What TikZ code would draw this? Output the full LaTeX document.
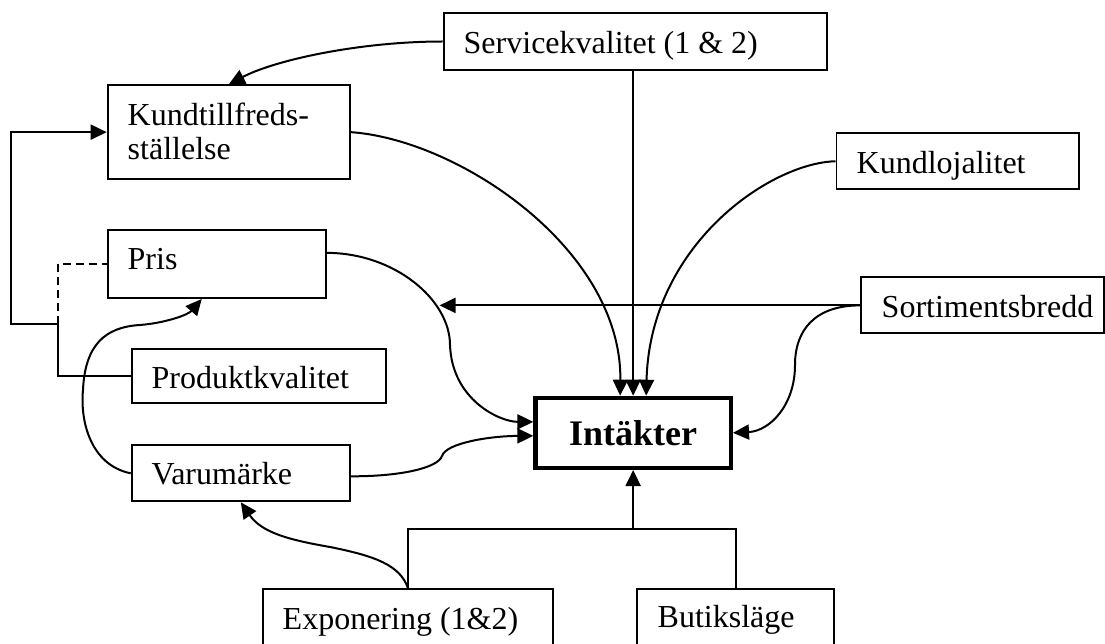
\documentclass[tikz,border=0pt]{standalone}
\usepackage{fontspec}
\setmainfont{Liberation Serif}
\usetikzlibrary{arrows.meta}
\begin{document}
\begin{tikzpicture}[x=1pt,y=-1pt,
  box/.style={draw, line width=1.9pt, inner sep=0pt, rectangle},
  txt/.style={inner sep=0pt, anchor=base west, font=\fontsize{32}{34.5}\selectfont},
  conn/.style={line width=2pt},
  arr/.style={conn, -{Triangle[length=16pt,width=15pt]}},
]
\fill[white] (0,0) rectangle (1105,644);
\useasboundingbox (0,0) rectangle (1105,644);

% boxes
\node[box, minimum width=383.1pt, minimum height=56.5pt] (serv)  at (635.2,41.5) {};
\node[box, minimum width=242.4pt, minimum height=93.8pt] (kund)  at (228.85,132.15) {};
\node[box, minimum width=218.1pt, minimum height=68.4pt] (pris)  at (216.7,263.85) {};
\node[box, minimum width=254.1pt, minimum height=53.8pt] (prod)  at (258.7,376.15) {};
\node[box, minimum width=218.4pt, minimum height=56.1pt] (varu)  at (240.85,473.3) {};
\node[box, minimum width=242.6pt, minimum height=55.6pt] (kloj)  at (957.75,161.25) {};
\node[box, minimum width=243.1pt, minimum height=55.9pt] (sort)  at (982.5,305.4) {};
\node[box, minimum width=290.7pt, minimum height=60pt]   (expo)  at (408,619.15) {};
\node[box, minimum width=197.1pt, minimum height=60pt]   (butik) at (735.5,618.85) {};
\node[box, line width=4.5pt, minimum width=195.2pt, minimum height=69.8pt,
      font=\bfseries\fontsize{36}{40}\selectfont] (intak) at (633.15,432.85) {Intäkter};

% box labels
\node[txt] (servT)  at (463.5,53.3)  {Servicekvalitet (1 \& 2)};
\node[txt] (kundT1) at (127.5,125.3) {Kundtillfreds-};
\node[txt] (kundT2) at (127.5,159.8) {ställelse};
\node[txt] (prisT)  at (127.5,269.7) {Pris};
\node[txt] (prodT)  at (151.5,388.8) {Produktkvalitet};
\node[txt] (varuT)  at (151.5,484.5) {Varumärke};
\node[txt] (klojT)  at (856.5,173.5) {Kundlojalitet};
\node[txt] (sortT)  at (881.5,317.3) {Sortimentsbredd};
\node[txt] (expoT)  at (282.5,629.3) {Exponering (1\&2)};
\node[txt] (butikT) at (657.5,627.7) {Butiksläge};

% helper points
\coordinate (jn)   at (58.3,324.3);
\coordinate (pcut) at (439.5,305.4);
\coordinate (brk)  at (0,528.7);

% service quality
\draw[arr] (serv.west) .. controls (360,41.5) and (275,60) .. (kund.north);
\draw[arr] (serv.south -| intak.north) -- (intak.north);

% customer satisfaction and loyalty
\draw[arr] (kund.east) .. controls (460,140) and (622,250) .. ([xshift=-13pt]intak.north);
\draw[arr] (kloj.west) .. controls (770,163) and (650,245) .. ([xshift=13pt]intak.north);

% assortment width
\draw[arr] (sort.west) -- (pcut);
\draw[arr] (sort.west) .. controls (815,305.4) and (795,330) .. (795,365)
           .. controls (795,405) and (770,431) .. (intak.east);

% price and brand
\draw[arr] ([yshift=11pt]pris.east) .. controls (395,253) and (450,300) .. (450,345)
           .. controls (452,400) and (500,421.85) .. ([yshift=11pt]intak.west);
\draw[arr] ([yshift=-3pt]varu.east) .. controls (400,476.5) and (438,468) .. (442,456)
           .. controls (446,443) and (490,436) .. ([yshift=-3pt]intak.west);
\draw[arr] (varu.west) .. controls (90,465) and (80,420) .. (83,390)
           .. controls (85,345) and (105,327) .. (140,325)
           .. controls (165,323) and (188,315) .. ([xshift=-15pt]pris.south);

% product quality
\draw[arr] (prod.west) -| (jn) -- (10.7,324.3) |- (kund.west);
\draw[conn, dash pattern=on 8pt off 5pt] (jn) |- (pris.west);

% exposure and store location
\draw[arr] (expo.north) .. controls (400,565) and (375,556) .. (330,547)
           .. controls (290,540) and (262,533) .. (varu.south);
\draw[conn] (expo.north) -- (expo.north |- brk) -- (butik.north |- brk) -- (butik.north);
\draw[arr] (intak.south |- brk) -- (intak.south);
\end{tikzpicture}
\end{document}
